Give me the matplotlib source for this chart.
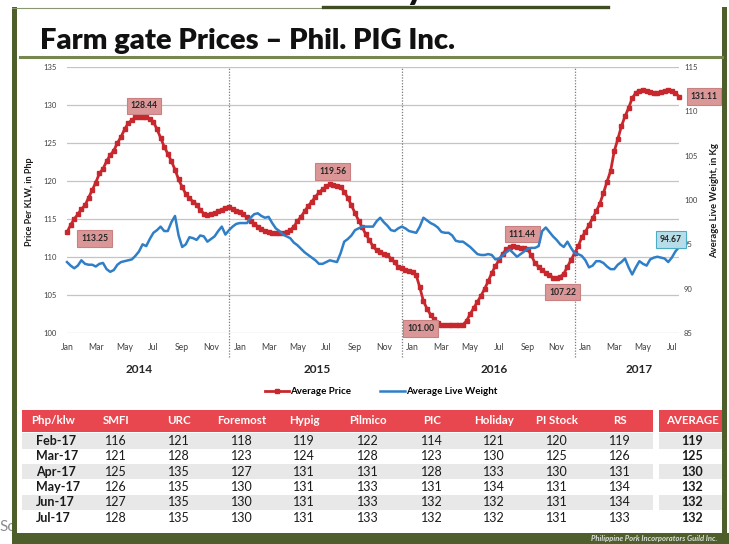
import matplotlib
matplotlib.use('Agg')
import matplotlib.pyplot as plt
from matplotlib.patches import Rectangle
from matplotlib.lines import Line2D
import matplotlib.transforms as mtrans
import numpy as np

plt.rcParams['font.family'] = ['Lato', 'DejaVu Sans']

# ---------------- data (4 readings per month, Jan 2014 .. Jul 2017) ----------------
price_2014 = [113.25, 114.2, 115.0, 115.6, 116.3, 116.8, 117.8, 118.8, 119.8, 121.0, 121.6, 122.6,
              123.4, 124.0, 125.0, 125.8, 126.8, 127.6, 128.0, 128.4, 128.44, 128.4, 128.4, 128.2,
              127.8, 126.8, 125.7, 124.5, 123.6, 122.6, 121.5, 120.2, 119.2, 118.3, 117.7, 117.3,
              116.9, 116.2, 115.7, 115.5, 115.6, 115.8, 116.0, 116.2, 116.5, 116.6, 116.3, 116.1]
price_2015 = [115.9, 115.6, 115.2, 114.8, 114.4, 114.0, 113.7, 113.4, 113.3, 113.2, 113.1, 113.2,
              113.2, 113.3, 113.5, 114.0, 114.7, 115.3, 116.0, 116.7, 117.3, 117.9, 118.5, 118.9,
              119.3, 119.56, 119.5, 119.4, 119.2, 118.6, 117.8, 116.8, 115.8, 114.8, 113.9, 113.0,
              112.2, 111.4, 110.9, 110.6, 110.4, 110.2, 109.8, 109.3, 108.7, 108.5, 108.3, 108.2]
price_2016 = [108.0, 107.6, 106.0, 104.2, 103.2, 102.4, 101.8, 101.3, 101.1, 101.0, 101.0, 101.0,
              101.0, 101.0, 101.1, 101.6, 102.5, 103.3, 104.1, 104.9, 105.8, 106.8, 107.9, 108.8,
              109.6, 110.4, 111.0, 111.3, 111.44, 111.3, 111.2, 111.2, 111.0, 110.2, 109.2, 108.7,
              108.3, 107.9, 107.6, 107.3, 107.22, 107.4, 107.8, 108.7, 109.6, 110.5, 111.4, 112.6]
price_2017 = [113.3, 114.2, 115.1, 116.0, 117.0, 118.4, 119.9, 121.3, 123.9, 125.5, 127.2, 128.5,
              129.6, 130.9, 131.6, 131.9, 132.0, 131.9, 131.7, 131.6, 131.6, 131.7, 131.9, 132.0,
              131.8, 131.6, 131.11]

weight_2014 = [93.0, 92.6, 92.3, 92.6, 93.2, 92.8, 92.7, 92.7, 92.5, 92.8, 92.9, 92.2,
               91.9, 92.1, 92.7, 93.0, 93.1, 93.2, 93.3, 93.7, 94.2, 95.0, 94.8, 95.6,
               96.3, 96.6, 97.0, 96.5, 96.5, 97.5, 98.2, 96.0, 94.7, 95.0, 95.8, 95.7,
               95.5, 96.0, 95.9, 95.3, 95.6, 95.9, 96.5, 97.0, 96.1, 96.6, 97.0, 97.3]
weight_2015 = [97.4, 97.4, 97.4, 98.0, 98.4, 98.5, 98.2, 98.0, 98.1, 97.4, 96.8, 96.5,
               96.1, 95.9, 95.7, 95.2, 94.9, 94.5, 94.1, 93.8, 93.5, 93.2, 92.8, 92.8,
               93.0, 93.2, 93.1, 93.0, 94.0, 95.3, 95.6, 96.0, 96.6, 96.8, 97.0, 97.0,
               97.0, 97.0, 97.6, 98.0, 97.5, 97.1, 96.6, 96.5, 96.8, 97.0, 96.8, 96.5]
weight_2016 = [96.4, 96.3, 97.0, 98.0, 97.7, 97.4, 97.2, 96.9, 96.4, 96.3, 96.3, 96.0,
               95.4, 95.3, 95.3, 95.0, 94.7, 94.3, 93.9, 93.8, 93.8, 93.9, 93.8, 93.3,
               93.4, 93.7, 94.1, 94.4, 94.0, 93.6, 93.9, 94.2, 94.5, 94.6, 94.6, 94.8,
               96.5, 96.9, 96.4, 95.9, 95.5, 95.0, 94.7, 95.3, 94.6, 94.0, 93.9, 93.7]
weight_2017 = [93.2, 92.4, 92.6, 93.1, 93.1, 92.9, 92.5, 92.2, 92.2, 92.7, 93.0, 93.4,
               92.4, 91.6, 92.4, 93.1, 92.8, 92.6, 93.3, 93.5, 93.6, 93.5, 93.4, 93.0,
               93.5, 94.2, 94.67]

month_labels = ['Jan', 'Mar', 'May', 'Jul', 'Sep', 'Nov'] * 3 + ['Jan', 'Mar', 'May', 'Jul']
years = ['2014', '2015', '2016', '2017']
year_label_pos = [5.0, 17.4, 29.7, 39.7]
year_dividers = [11.25, 23.25, 35.25]

# labelled points: index into the price series, and label offset (points)
price_label_idx = [0, 20, 73, 106, 124, 136, -1]
price_label_off = [(20, -4.3), (3.6, 7.9), (2.2, 9.4), (-20, -2), (6.5, 8.6), (4.3, -10), (18, 0)]

table_cols = ['Php/klw', 'SMFI', 'URC', 'Foremost', 'Hypig', 'Pilmico', 'PIC', 'Holiday', 'PI Stock', 'RS']
table_months = ['Feb-17', 'Mar-17', 'Apr-17', 'May-17', 'Jun-17', 'Jul-17']
smfi = [116, 121, 125, 126, 127, 128]
urc = [121, 128, 135, 135, 135, 135]
foremost = [118, 123, 127, 130, 130, 130]
hypig = [119, 124, 131, 131, 131, 131]
pilmico = [122, 128, 131, 133, 133, 133]
pic = [114, 123, 128, 131, 132, 132]
holiday = [121, 130, 133, 134, 132, 132]
pistock = [120, 125, 130, 131, 131, 131]
rs = [119, 126, 131, 134, 134, 133]
average = [119, 125, 130, 132, 132, 132]

# ---------------- figure ----------------
W, H = 729, 544
fig = plt.figure(figsize=(W / 100, H / 100), dpi=100)

RED = '#C8282D'
BLUE = '#2F7FC8'
GREEN = '#4E5F2B'

price = np.array(price_2014 + price_2015 + price_2016 + price_2017)
weight = np.array(weight_2014 + weight_2015 + weight_2016 + weight_2017)
xp = np.arange(len(price)) * 0.25
xw = np.arange(len(weight)) * 0.25

ax = fig.add_axes([67 / W, 1 - 333 / H, 612 / W, 266 / H])
ax2 = ax.twinx()
ax.set_zorder(2)
ax2.set_zorder(3)
ax.patch.set_visible(False)
ax2.patch.set_visible(False)

ax.set_xlim(0, 42.5)
ax.set_ylim(100, 135)
ax2.set_ylim(85, 115)
ax.set_yticks(range(100, 136, 5))
ax2.set_yticks(range(85, 116, 5))
ax.set_xticks(range(0, 43, 2))
ax.set_xticklabels(month_labels)
for a in (ax, ax2):
    for s in a.spines.values():
        s.set_visible(False)
ax.tick_params(axis='y', length=0, pad=7.5, labelsize=5.5, labelcolor='#404040')
ax2.tick_params(axis='y', length=0, pad=3.6, labelsize=5.5, labelcolor='#404040')
ax.tick_params(axis='x', length=0, pad=7, labelsize=6.2, labelcolor='#404040')
ax.yaxis.grid(True, color='#C4C4C4', lw=0.9)
ax.set_axisbelow(True)

for d in year_dividers:
    ax.plot([d, d], [96.8, 135], ls=(0, (1, 1.3)), color='#7A7A7A', lw=0.9, clip_on=False, zorder=1)

ax.plot(xp, price, color=RED, lw=2.0, marker='s', ms=3.1, mec=RED, mfc=RED, zorder=4, clip_on=False)
ax2.plot(xw, weight, color=BLUE, lw=1.8, zorder=3, clip_on=False)

# year labels
tr = mtrans.blended_transform_factory(ax.transData, ax.transAxes)
for yl, yp in zip(years, year_label_pos):
    ax.text(yp, -0.139, yl, transform=tr, ha='center', va='center', fontsize=8.5,
            fontweight='bold', color='#262626')

# legend
handles = [Line2D([], [], color=RED, lw=2.0, marker='s', ms=3.1),
           Line2D([], [], color=BLUE, lw=1.8)]
ax.legend(handles, ['Average Price', 'Average Live Weight'], loc='center',
          bbox_to_anchor=(0.513, -0.22), ncol=2, frameon=False,
          handlelength=2.5, handletextpad=0.1, columnspacing=3.0,
          prop={'weight': 'bold', 'size': 7})

# data labels
for idx, off in zip(price_label_idx, price_label_off):
    v = price[idx]
    ax.annotate(f'{v:.2f}', xy=(xp[idx], v), xytext=off, textcoords='offset points',
                ha='center', va='center', fontsize=6.2, fontweight='bold', color='#262626',
                bbox=dict(boxstyle='square,pad=0.45', fc='#DB9797', ec='#C98080', lw=0.8),
                annotation_clip=False, zorder=6)
ax2.annotate(f'{weight[-1]:.2f}', xy=(xw[-1], weight[-1]), xytext=(-5.8, 5.8),
             textcoords='offset points', ha='center', va='center', fontsize=6.2,
             fontweight='bold', color='#262626',
             bbox=dict(boxstyle='square,pad=0.45', fc='#B7DEE8', ec='#4BACC6', lw=0.8),
             annotation_clip=False, zorder=6)

fig.text(30 / W, 1 - 202 / H, 'Price Per KLW, in Php', rotation=90, ha='center', va='center',
         fontsize=6.5, fontweight='bold', color='#1A1A1A')
fig.text(715 / W, 1 - 201 / H, 'Average Live Weight, in Kg', rotation=90, ha='center',
         va='center', fontsize=6.8, fontweight='bold', color='#1A1A1A')

# ---------------- overlay (pixel coordinates) ----------------
ov = fig.add_axes([0, 0, 1, 1])
ov.set_xlim(0, W)
ov.set_ylim(H, 0)
ov.axis('off')
ov.patch.set_visible(False)
ov.set_zorder(5)

# partially visible source note at the left edge
ov.text(-1, 527, 'So', fontsize=11, color='#8C8C8C', ha='left', va='center', zorder=0)

# frame
ov.add_patch(Rectangle((12, 7), 5, H - 7, fc=GREEN, ec='none', zorder=8))
ov.add_patch(Rectangle((12, 533), W - 12, 11, fc=GREEN, ec='none', zorder=8))
ov.add_patch(Rectangle((722, 7), 5, H - 7, fc=GREEN, ec='none', zorder=8))
ov.plot([12, 323], [7.5, 7.5], color='#8A9670', lw=0.8, zorder=8)
ov.plot([323, 608], [6.5, 6.5], color='#3E4D22', lw=2.4, zorder=8)
ov.text(416, -2, 'y', fontsize=30, fontweight='bold', color='#111111', ha='center',
        va='baseline', zorder=8)

# title
ov.text(40, 49, 'Farm gate Prices \u2013 Phil. PIG Inc.', fontsize=21, fontweight='heavy',
        color='#111111', ha='left', va='baseline', zorder=8)
ov.plot([20, 722], [56.5, 56.5], color='#76884F', lw=2.2, zorder=8)

# footer text
ov.text(717, 539, 'Philippine Pork Incorporators Guild Inc.', fontsize=5.5, style='italic',
        fontweight='bold', color='#DDDDDD', ha='right', va='center', zorder=9)

# table
HEAD_RED = '#E9474F'
ov.add_patch(Rectangle((22, 410), 631, 22, fc=HEAD_RED, ec='none', zorder=2))
ov.add_patch(Rectangle((659, 410), 64, 22, fc=HEAD_RED, ec='none', zorder=2))
col_x = [53, 116, 179, 242, 304, 368, 432, 494, 557, 620]
avg_x = 692
for name, cx in zip(table_cols, col_x):
    ov.text(cx, 421, name, ha='center', va='center', fontsize=8.3, fontweight='bold',
            color='white', zorder=3)
ov.text(avg_x, 421, 'AVERAGE', ha='center', va='center', fontsize=8.3, fontweight='bold',
        color='white', zorder=3)

row_h = 15.3
row_y0 = 441
company_vals = [smfi, urc, foremost, hypig, pilmico, pic, holiday, pistock, rs]
for i, mname in enumerate(table_months):
    yc = row_y0 + i * row_h
    if i % 2 == 0:
        ov.add_patch(Rectangle((22, yc - row_h / 2), 631, row_h, fc='#E8E8E8', ec='none', zorder=2))
        ov.add_patch(Rectangle((659, yc - row_h / 2), 64, row_h, fc='#E8E8E8', ec='none', zorder=2))
    ov.text(36, yc, mname, ha='left', va='center', fontsize=9, fontweight='bold',
            color='#1A1A1A', zorder=3)
    for vals, cx in zip(company_vals, col_x[1:]):
        ov.text(cx, yc, str(vals[i]), ha='center', va='center', fontsize=9,
                color='#1A1A1A', zorder=3)
    ov.text(avg_x, yc, str(average[i]), ha='center', va='center', fontsize=9,
            fontweight='bold', color='#1A1A1A', zorder=3)

fig.savefig('out.png', dpi=100, facecolor='white')
